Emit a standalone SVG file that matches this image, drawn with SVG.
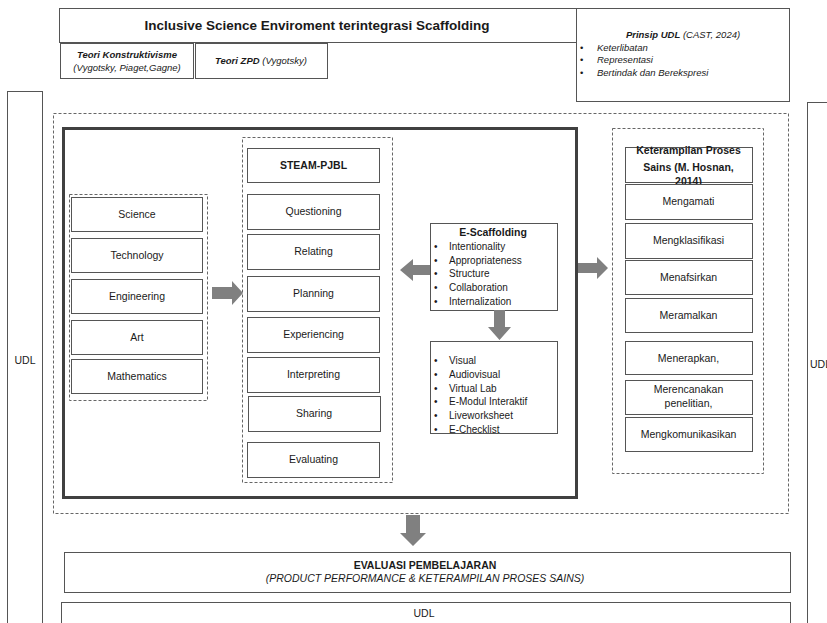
<svg xmlns="http://www.w3.org/2000/svg" width="827" height="623" viewBox="0 0 827 623">
<style>
text{font-family:"Liberation Sans",Arial,sans-serif;fill:#1a1a1a}
.box{fill:#fff;stroke:#555;stroke-width:1}
.dash{fill:none;stroke:#666;stroke-width:1;stroke-dasharray:3 2}
.thick{fill:none;stroke:#404040;stroke-width:3}
.lbl{font-size:10.5px;text-anchor:middle}
.b{font-weight:bold}
.i{font-style:italic}
.li{font-size:10px}
.arr{fill:#808080}
</style>
<rect width="827" height="623" fill="#fff"/>

<g id="title">
<rect class="box" x="59.5" y="8.5" width="517" height="34"/>
<text x="317" y="30" font-size="13.5" font-weight="bold" text-anchor="middle">Inclusive Science Enviroment terintegrasi Scaffolding</text>
</g>
<g id="teori-konstruktivisme">
<rect class="box" x="60.5" y="43.5" width="133" height="35"/>
<text x="127" y="58" font-size="9.5" class="b i" text-anchor="middle">Teori Konstruktivisme</text>
<text x="127" y="71" font-size="9.5" class="i" text-anchor="middle">(Vygotsky,  Piaget,Gagne)</text>
</g>
<g id="teori-zpd">
<rect class="box" x="195.5" y="43.5" width="132" height="35"/>
<text x="261" y="64" font-size="9.5" text-anchor="middle" class="i"><tspan font-weight="bold">Teori ZPD</tspan> (Vygotsky)</text>
</g>
<g id="prinsip-udl">
<rect class="box" x="576.5" y="8.5" width="213" height="93"/>
<text x="683" y="38" font-size="9.5" text-anchor="middle" class="i"><tspan font-weight="bold">Prinsip UDL</tspan> (CAST, 2024)</text>
<text x="580" y="51" font-size="9.5">•</text><text x="597" y="51" font-size="9.5" class="i">Keterlibatan</text>
<text x="580" y="63" font-size="9.5">•</text><text x="597" y="63" font-size="9.5" class="i">Representasi</text>
<text x="580" y="76" font-size="9.5">•</text><text x="597" y="76" font-size="9.5" class="i">Bertindak dan Berekspresi</text>
</g>

<g id="udl-left">
<rect class="box" x="7.5" y="91.5" width="35" height="540"/>
<text x="25" y="364" class="lbl">UDL</text>
</g>
<g id="udl-right">
<rect class="box" x="807.5" y="102.5" width="40" height="530"/>
<text x="810" y="368" font-size="10.5">UDL</text>
</g>

<g id="outer-frame"><rect class="dash" x="53.5" y="113.5" width="735" height="400"/></g>
<g id="main-frame"><rect class="thick" x="63.5" y="128.5" width="513" height="369"/></g>

<g id="steam-group">
<rect class="dash" x="69.5" y="194.5" width="138" height="206"/>
<g id="science"><rect class="box" x="71.5" y="197.5" width="131" height="34"/><text x="137" y="218" class="lbl">Science</text></g>
<g id="technology"><rect class="box" x="71.5" y="238.5" width="131" height="34"/><text x="137" y="259" class="lbl">Technology</text></g>
<g id="engineering"><rect class="box" x="71.5" y="279.5" width="131" height="34"/><text x="137" y="300" class="lbl">Engineering</text></g>
<g id="art"><rect class="box" x="71.5" y="320.5" width="131" height="34"/><text x="137" y="341" class="lbl">Art</text></g>
<g id="mathematics"><rect class="box" x="71.5" y="359.5" width="131" height="34"/><text x="137" y="380" class="lbl">Mathematics</text></g>
</g>

<g id="pjbl-group">
<rect class="dash" x="242.5" y="137.5" width="150" height="345"/>
<g id="steam-pjbl"><rect class="box" x="247.5" y="148.5" width="132" height="34"/><text x="313.5" y="169" class="lbl b" font-size="11">STEAM-PJBL</text></g>
<g id="questioning"><rect class="box" x="247.5" y="194.5" width="132" height="35"/><text x="313.5" y="215" class="lbl">Questioning</text></g>
<g id="relating"><rect class="box" x="247.5" y="234.5" width="132" height="35"/><text x="313.5" y="255" class="lbl">Relating</text></g>
<g id="planning"><rect class="box" x="247.5" y="276.5" width="132" height="35"/><text x="313.5" y="297" class="lbl">Planning</text></g>
<g id="experiencing"><rect class="box" x="247.5" y="317.5" width="132" height="35"/><text x="313.5" y="338" class="lbl">Experiencing</text></g>
<g id="interpreting"><rect class="box" x="247.5" y="357.5" width="132" height="35"/><text x="313.5" y="378" class="lbl">Interpreting</text></g>
<g id="sharing"><rect class="box" x="248.5" y="396.5" width="132" height="35"/><text x="314" y="417" class="lbl">Sharing</text></g>
<g id="evaluating"><rect class="box" x="247.5" y="442.5" width="132" height="35"/><text x="313.5" y="463" class="lbl">Evaluating</text></g>
</g>

<g id="e-scaffolding">
<rect class="box" x="430.5" y="223.5" width="127" height="87"/>
<text x="493" y="236" class="lbl b" font-size="11.5">E-Scaffolding</text>
<text x="434" y="250" class="li">•</text><text x="449" y="250" class="li">Intentionality</text>
<text x="434" y="264" class="li">•</text><text x="449" y="264" class="li">Appropriateness</text>
<text x="434" y="277" class="li">•</text><text x="449" y="277" class="li">Structure</text>
<text x="434" y="291" class="li">•</text><text x="449" y="291" class="li">Collaboration</text>
<text x="434" y="305" class="li">•</text><text x="449" y="305" class="li">Internalization</text>
</g>

<g id="media">
<rect class="box" x="430.5" y="341.5" width="127" height="92"/>
<text x="434" y="364" class="li">•</text><text x="449" y="364" class="li">Visual</text>
<text x="434" y="378" class="li">•</text><text x="449" y="378" class="li">Audiovisual</text>
<text x="434" y="392" class="li">•</text><text x="449" y="392" class="li">Virtual Lab</text>
<text x="434" y="405" class="li">•</text><text x="449" y="405" class="li">E-Modul Interaktif</text>
<text x="434" y="419" class="li">•</text><text x="449" y="419" class="li">Liveworksheet</text>
<text x="434" y="433" class="li">•</text><text x="449" y="433" class="li">E-Checklist</text>
</g>

<g id="kps-group">
<rect class="dash" x="612.5" y="128.5" width="151" height="345"/>
<g id="kps-title"><rect class="box" x="625.5" y="147.5" width="127" height="35"/>
<text x="688.5" y="154" class="lbl b" font-size="10.5">Keterampilan Proses</text>
<text x="688.5" y="171" class="lbl b" font-size="10.5">Sains (M. Hosnan,</text>
<text x="688.5" y="185" class="lbl b" font-size="10.5">2014)</text></g>
<g id="mengamati"><rect class="box" x="625.5" y="184.5" width="127" height="35"/><text x="688.5" y="205" class="lbl">Mengamati</text></g>
<g id="mengklasifikasi"><rect class="box" x="625.5" y="223.5" width="127" height="35"/><text x="688.5" y="244" class="lbl">Mengklasifikasi</text></g>
<g id="menafsirkan"><rect class="box" x="625.5" y="260.5" width="127" height="34"/><text x="688.5" y="281" class="lbl">Menafsirkan</text></g>
<g id="meramalkan"><rect class="box" x="625.5" y="298.5" width="127" height="34"/><text x="688.5" y="319" class="lbl">Meramalkan</text></g>
<g id="menerapkan"><rect class="box" x="625.5" y="341.5" width="127" height="33"/><text x="688.5" y="362" class="lbl">Menerapkan,</text></g>
<g id="merencanakan"><rect class="box" x="625.5" y="380.5" width="127" height="34"/><text x="688.5" y="393" class="lbl">Merencanakan</text><text x="688.5" y="407" class="lbl">penelitian,</text></g>
<g id="mengkomunikasikan"><rect class="box" x="625.5" y="417.5" width="127" height="34"/><text x="688.5" y="438" class="lbl">Mengkomunikasikan</text></g>
</g>

<g id="evaluasi">
<rect class="box" x="64.5" y="552.5" width="726" height="40"/>
<text x="425" y="569" class="lbl b" font-size="10">EVALUASI PEMBELAJARAN</text>
<text x="425" y="582" class="lbl i" font-size="10">(PRODUCT PERFORMANCE &amp; KETERAMPILAN PROSES SAINS)</text>
</g>
<g id="udl-bottom">
<rect class="box" x="61.5" y="602.5" width="729" height="40"/>
<text x="424" y="617" class="lbl" font-size="10">UDL</text>
</g>

<g id="connectors">
<polygon class="arr" points="212,287 232,287 232,281 243,293 232,305 232,299 212,299"/>
<polygon class="arr" points="430,265 413,265 413,259 400,270 413,281 413,275 430,275"/>
<polygon class="arr" points="578,263 597,263 597,257 608,268 597,279 597,273 578,273"/>
<polygon class="arr" points="494,310 505,310 505,327 511,327 499.5,340 488,327 494,327"/>
<polygon class="arr" points="406,515 420,515 420,533 426,533 413,546 400,533 406,533"/>
</g>
</svg>
